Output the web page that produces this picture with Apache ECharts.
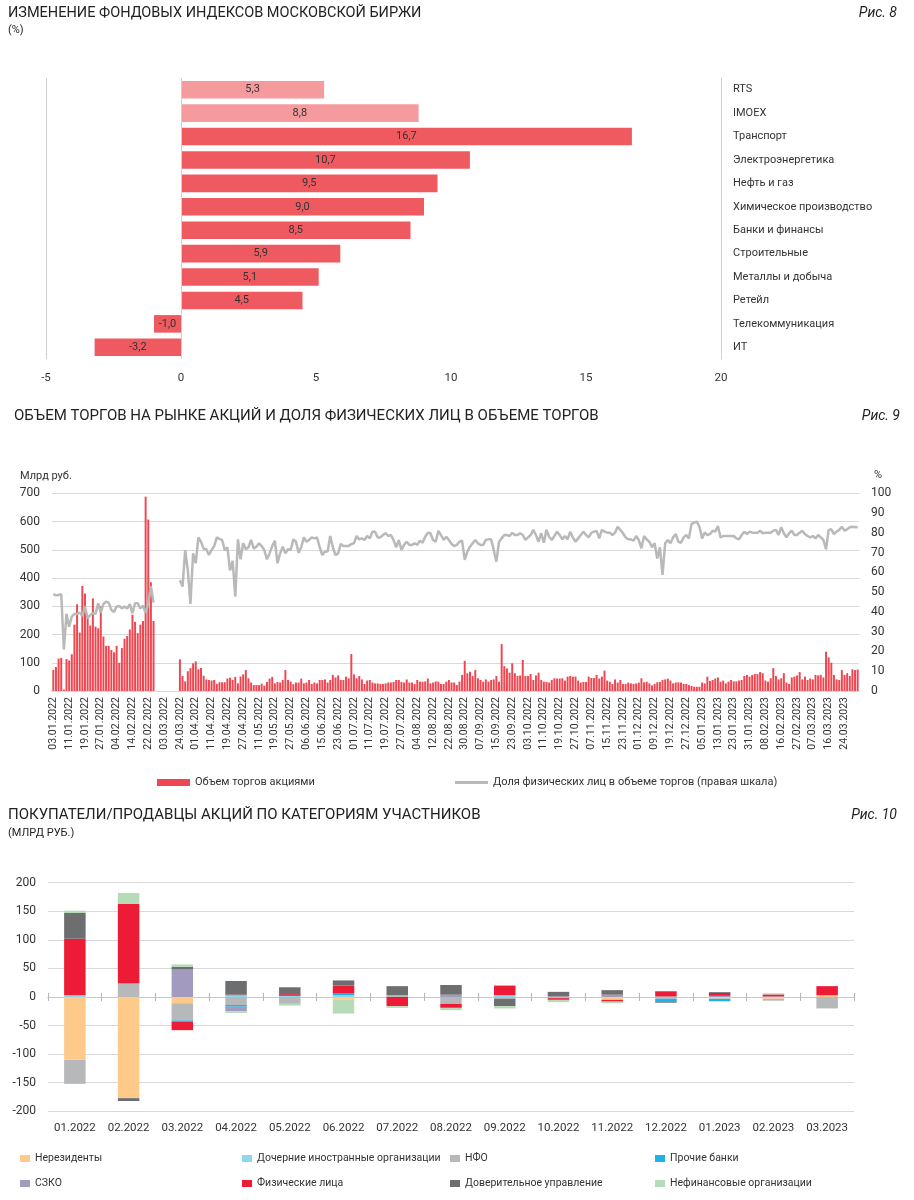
<!DOCTYPE html>
<html><head><meta charset="utf-8">
<script src="https://cdn.jsdelivr.net/npm/echarts@6/dist/echarts.min.js"></script>
<style>html,body{margin:0;padding:0;background:#fff}#c{width:914px;height:1200px}</style>
</head><body><div id="c"></div>
<script>
// ---------- Chart 8: index changes ----------
const indexNames = ['RTS','IMOEX','Транспорт','Электроэнергетика','Нефть и газ','Химическое производство','Банки и финансы','Строительные','Металлы и добыча','Ретейл','Телекоммуникация','ИТ'];
const indexValues = [5.3,8.8,16.7,10.7,9.5,9.0,8.5,5.9,5.1,4.5,-1.0,-3.2];
const indexTicks = [-5,0,5,10,15,20];

// ---------- Chart 9: trading volume & retail share ----------
const dayStart = '03.01.2022', dayEnd = '31.03.2023';
const holidays = ['23.02.2022','08.03.2022','02.05.2022','03.05.2022','09.05.2022','10.05.2022','13.06.2022','04.11.2022','02.01.2023','23.02.2023','08.03.2023'];
const closedFrom = '04.03.2022', closedTo = '23.03.2022';
const closedKept = ['04.03.2022','10.03.2022','16.03.2022','22.03.2022','23.03.2022'];

const volA = [75,85,115,117,5,113,108,130,235,307,207,372,345,258,232,328,228,222,300,193,160,160,145,137,160,100,152,185,195,218,270,245,205,235,248,688,607,385,248];
const volGap = [null,null,null,null,null,null,null,null,null];
const volB = [112,53,34,70,81,98,105,77,81,54,41,39,37,39,25,31,31,31,44,47,39,50,27,51,59,74,45,30,21,21,21,26,19,32,44,50,27,32,30,39,74,39,33,24,30,30,44,27,30];
const volC = [39,25,30,27,39,39,41,30,39,57,48,55,39,39,51,45,131,59,45,53,41,25,37,39,30,27,27,25,25,27,30,30,32,39,39,32,30,41,30,30,25,39,33,33,34,44,27,30,34,33,25,25,33,39,30,30,21,33,57,107,63,68,53,74,45,39,33,41,33,39,41,53,33,166,88,80,65,98,63,53,55,110,53,53,60,39,55,65,39,33,32,30,39,45,44,44,45,37,51,53,51,51,37,30,32,32,51,46,46,57,44,51,72];
const volD = [37,33,25,41,30,39,25,25,30,27,25,27,30,45,31,33,27,20,25,31,32,39,41,44,37,27,30,31,30,25,25,21,18,15,15,15,30,27,51,35,39,44,48,33,37,27,33,39,34,34,37,39,53,57,51,57,60,60,67,63,37,33,45,81,53,41,45,63,30,25,48,51,55,67,41,51,39,44,41,57,55,57,48,139,119,100,57,41,39,74,57,63,53,77,74,76];

const shareA = [49,48.4,48.6,49,21,39,32.5,37.6,39,39,39.6,38,42.7,36.8,38.4,39.3,39,44.4,39.6,44,45.2,44.7,41,40,42.7,43,41.8,42.7,41.7,44,39.3,44.4,44.4,41.8,43.2,39.6,44.4,53,44.7];
const shareGap = [null,null,null,null,null,null,null,null,null];
const shareB = [56,52.8,71.3,61,44,69.6,64.6,77.7,75.5,72,71.7,68.8,71.3,73.3,77.7,77,76.4,71.3,72.7,61,65.8,47.7,76.7,66.6,74.7,71.7,72.7,76.4,72,73,74.7,73.3,71.3,66.6,69.6,73.3,76,64.6,69.6,73,69.6,71.7,71.3,76.7,75.5,70,72.7,77.7,75.5];
const shareC = [76.4,77.7,77.2,77.7,72.7,68.8,70.5,70.5,78.4,72.7,68.8,69.6,74.4,73.3,73.3,73.3,74.4,74.7,78.4,76.7,77.2,76.4,78.4,77.2,80.6,80.6,77.7,77.7,78.9,79.8,78.4,78.9,76.4,72.7,76.4,71.3,73.9,75.5,73.9,73.9,74.7,73.9,76,75,78,80,79.8,76.4,75.5,81,78.9,76.4,78,76.4,74.4,73.3,73.9,75.5,76,66.3,70.5,73,74.7,76.4,74.7,73.9,73.9,76.4,76.7,76.7,71.3,65.4,75.5,77.2,78.9,78.9,78.4,80,78.9,78.9,79.8,78.9,76.4,77.7,78.9,81.5,78.9,75.5,79.8,75,81.5,78,76.4,78.4,80.6,78.9,76.7,78.4,76.7,80.6,77.7,75.5,77.2,78.9,80.6,78.9,77.7,80,80.6,81,77.2,81.5,80.6];
const shareD = [80.1,80.1,78.9,80.1,83.1,81.5,79.8,77.7,76.7,76.7,76,78.4,76.4,72.2,78.4,76.7,75.5,72.7,74.7,67,72.7,58.7,74.7,76.4,74.7,77.7,79.4,75.5,75,77.7,78.9,77.2,84.5,85.2,85.7,83.1,77.2,80.1,78.9,79.4,81.1,80.6,83.5,77.7,78.4,78.4,78.4,78.4,78.4,77.2,76.7,78.9,80.6,79.4,80.6,80.1,80.1,80.1,81.1,79.8,80.1,80.1,80.1,81.1,81.5,78.9,82.8,79.8,77.7,79.8,81.1,78.9,78.9,80.1,81.1,79.4,78.4,77.7,78.4,77.2,78.9,77.7,76.4,71.7,81.5,81.8,79.4,80.6,81.5,83.1,81.1,81.8,82.8,83.1,82.8,83];

// ---------- Chart 10: buyers / sellers ----------
const months = ['01.2022','02.2022','03.2022','04.2022','05.2022','06.2022','07.2022','08.2022','09.2022','10.2022','11.2022','12.2022','01.2023','02.2023','03.2023'];
const nonResidents   = [-110,-177,-11,0,0,-4,0,0,0,0,-5,0,-3,-3,3];
const foreignSubs    = [3,0,0,3,2,3,0,0,3,0,0,0,0,0,0];
const nfo            = [-42,23,-30,-14,-12,0,3,-12,-3,-2,0,-3,0,-3.5,-20];
const otherBanks     = [0,1,-2,-3,0,4,0,0,0,0,0,-4.5,-4.5,0,0];
const szko           = [0,0,48,-8,0,0,0,4,0,1,4,1,2,1,0];
const individuals    = [99,139,-15,1,3,13,-16,-7,17,-3,-3,9,5,3.5,16];
const trustMgmt      = [45,-5,5,24,12,9,16,17,-13,8,8,-2.5,1.5,0,0];
const nonFinancial   = [4,19,4,-3,-3,-25,-3,-4,-4,-4,-3,0,0,2,0];

// ---- build trading-day categories ----
function parseD(s){const p=s.split('.');return Date.UTC(+p[2],+p[1]-1,+p[0]);}
function fmtD(t){const d=new Date(t);const dd=String(d.getUTCDate()).padStart(2,'0');const mm=String(d.getUTCMonth()+1).padStart(2,'0');return dd+'.'+mm+'.'+d.getUTCFullYear();}
const days = [];
for(let t=parseD(dayStart); t<=parseD(dayEnd); t+=86400000){
  const wd=new Date(t).getUTCDay(); if(wd===0||wd===6) continue;
  const s=fmtD(t); if(holidays.includes(s)) continue;
  if(t>=parseD(closedFrom)&&t<=parseD(closedTo)&&!closedKept.includes(s)) continue;
  days.push(s);
}
const volume = volA.concat(volGap, volB, volC, volD);
const retailShare = shareA.concat(shareGap, shareB, shareC, shareD);

const FONT = 'Roboto';
const TXT = '#333';
const GRIDC = '#d9d9d9';
const comma = v => (Math.round(v*10)/10).toFixed(1).replace('.', ',');

const c10Series = [
  ['Нерезиденты', nonResidents, '#fdca89'],
  ['Дочерние иностранные организации', foreignSubs, '#8fd6ee'],
  ['НФО', nfo, '#b7b8ba'],
  ['Прочие банки', otherBanks, '#1eb2e6'],
  ['СЗКО', szko, '#a39bbf'],
  ['Физические лица', individuals, '#ee1b36'],
  ['Доверительное управление', trustMgmt, '#6d6e70'],
  ['Нефинансовые организации', nonFinancial, '#b6dbb9']
];
const legendPos = [[20,1153],[242,1153],[450,1153],[655,1153],[20,1178],[242,1178],[450,1178],[655,1178]];

const tStyle = (size, extra) => Object.assign({fontSize:size,fontWeight:'normal',color:'#222',fontFamily:FONT}, extra||{});
const chart = echarts.init(document.getElementById('c'), null, {renderer:'canvas'});
const option = {
  animation:false,
  textStyle:{fontFamily:FONT,color:TXT},
  title:[
    {text:'ИЗМЕНЕНИЕ ФОНДОВЫХ ИНДЕКСОВ МОСКОВСКОЙ БИРЖИ',left:8,top:6,padding:0,textStyle:tStyle(14.5)},
    {text:'(%)',left:8,top:25,padding:0,textStyle:tStyle(11)},
    {text:'Рис. 8',right:17,top:6,padding:0,textStyle:tStyle(14,{fontStyle:'italic'})},
    {text:'ОБЪЕМ ТОРГОВ НА РЫНКЕ АКЦИЙ И ДОЛЯ ФИЗИЧЕСКИХ ЛИЦ В ОБЪЕМЕ ТОРГОВ',left:14,top:409,padding:0,textStyle:tStyle(15)},
    {text:'Рис. 9',right:14,top:409,padding:0,textStyle:tStyle(14,{fontStyle:'italic'})},
    {text:'Млрд руб.',left:20,top:471,padding:0,textStyle:tStyle(11,{color:TXT})},
    {text:'%',left:874,top:470,padding:0,textStyle:tStyle(11,{color:TXT})},
    {text:'ПОКУПАТЕЛИ/ПРОДАВЦЫ АКЦИЙ ПО КАТЕГОРИЯМ УЧАСТНИКОВ',left:8,top:808,padding:0,textStyle:tStyle(15)},
    {text:'(МЛРД РУБ.)',left:8,top:828,padding:0,textStyle:tStyle(11)},
    {text:'Рис. 10',right:17,top:808,padding:0,textStyle:tStyle(14,{fontStyle:'italic'})}
  ],
  legend:[
    {data:[{name:'Объем торгов акциями',icon:'rect'}],left:157,top:777,padding:0,itemWidth:33,itemHeight:7,textStyle:{fontSize:11,color:TXT,fontFamily:FONT},selectedMode:false},
    {data:[{name:'Доля физических лиц в объеме торгов (правая шкала)',icon:'rect'}],left:455,top:777,padding:0,itemWidth:33,itemHeight:3,textStyle:{fontSize:11,color:TXT,fontFamily:FONT},selectedMode:false}
  ].concat(c10Series.map((s,i)=>({data:[{name:s[0],icon:'rect'}],left:legendPos[i][0],top:legendPos[i][1],padding:0,itemWidth:10,itemHeight:7,itemGap:4,textStyle:{fontSize:10.5,color:TXT,fontFamily:FONT},selectedMode:false}))),
  grid:[
    {left:46,right:193,top:78,height:281},
    {left:52,right:55,top:493.3,height:197.7},
    {left:48,right:60,top:882.7,height:228.6}
  ],
  xAxis:[
    {gridIndex:0,type:'value',min:indexTicks[0],max:indexTicks[indexTicks.length-1],interval:5,axisLine:{show:false},axisTick:{show:false},splitLine:{show:false},axisLabel:{fontSize:11.5,color:TXT,margin:13}},
    {gridIndex:1,type:'category',data:days,axisLine:{lineStyle:{color:GRIDC}},axisTick:{show:false},axisLabel:{interval:5,rotate:90,fontSize:10.5,color:TXT,margin:6}},
    {gridIndex:2,type:'category',data:months,position:'bottom',axisLine:{show:false,onZero:false},axisTick:{show:false},axisLabel:{interval:0,fontSize:11.5,color:TXT,margin:11}},
    {gridIndex:2,type:'category',data:months,position:'bottom',axisLine:{show:true,onZero:true,onZeroAxisIndex:3,lineStyle:{color:'#c8c8c8'}},axisTick:{show:true,interval:0,length:4,lineStyle:{color:'#b5b5b5'}},axisLabel:{show:false}},
    {gridIndex:2,type:'category',data:months,position:'bottom',axisLine:{show:true,onZero:true,onZeroAxisIndex:3,lineStyle:{color:'#c8c8c8'}},axisTick:{show:true,interval:0,inside:true,length:4,lineStyle:{color:'#b5b5b5'}},axisLabel:{show:false}}
  ],
  yAxis:[
    {gridIndex:0,type:'category',data:indexNames,inverse:true,position:'right',axisLine:{show:true,onZero:false,lineStyle:{color:'#cfcfcf'}},axisTick:{show:false},axisLabel:{fontSize:11,color:TXT,margin:12,align:'left'}},
    {gridIndex:1,type:'value',min:0,max:700,interval:100,axisLine:{show:false},axisTick:{show:false},splitLine:{lineStyle:{color:GRIDC}},axisLabel:{fontSize:12,color:TXT,margin:12}},
    {gridIndex:1,type:'value',min:0,max:100,interval:10,position:'right',axisLine:{show:false},axisTick:{show:false},splitLine:{show:false},axisLabel:{fontSize:12,color:TXT,margin:12}},
    {gridIndex:2,type:'value',min:-200,max:200,interval:50,axisLine:{show:false},axisTick:{show:false},splitLine:{lineStyle:{color:GRIDC}},axisLabel:{fontSize:12,color:TXT,margin:12}}
  ],
  series:[
    {type:'bar',xAxisIndex:0,yAxisIndex:0,barCategoryGap:'25%',
     data:indexValues.map((v,i)=>({value:v,itemStyle:{color:i<2?'#f59a9d':'#ef5a60'}})),
     label:{show:true,position:'inside',fontSize:11,color:'#333',formatter:p=>comma(p.value)},
     markLine:{silent:true,symbol:'none',label:{show:false},lineStyle:{color:'#cfcfcf',type:'solid',width:1},data:[{xAxis:indexTicks[0]},{xAxis:0}]}},
    {name:'Объем торгов акциями',type:'bar',xAxisIndex:1,yAxisIndex:1,data:volume,barCategoryGap:'25%',itemStyle:{color:'#ef4752'}},
    {name:'Доля физических лиц в объеме торгов (правая шкала)',type:'line',xAxisIndex:1,yAxisIndex:2,data:retailShare,symbol:'none',connectNulls:false,lineStyle:{color:'#b9b9b9',width:2.5},itemStyle:{color:'#b9b9b9'}}
  ].concat(c10Series.map(s=>({name:s[0],type:'bar',xAxisIndex:2,yAxisIndex:3,stack:'flows',stackStrategy:'samesign',barWidth:'40%',data:s[1],itemStyle:{color:s[2]}})))
};
chart.setOption(option);
</script></body></html>
